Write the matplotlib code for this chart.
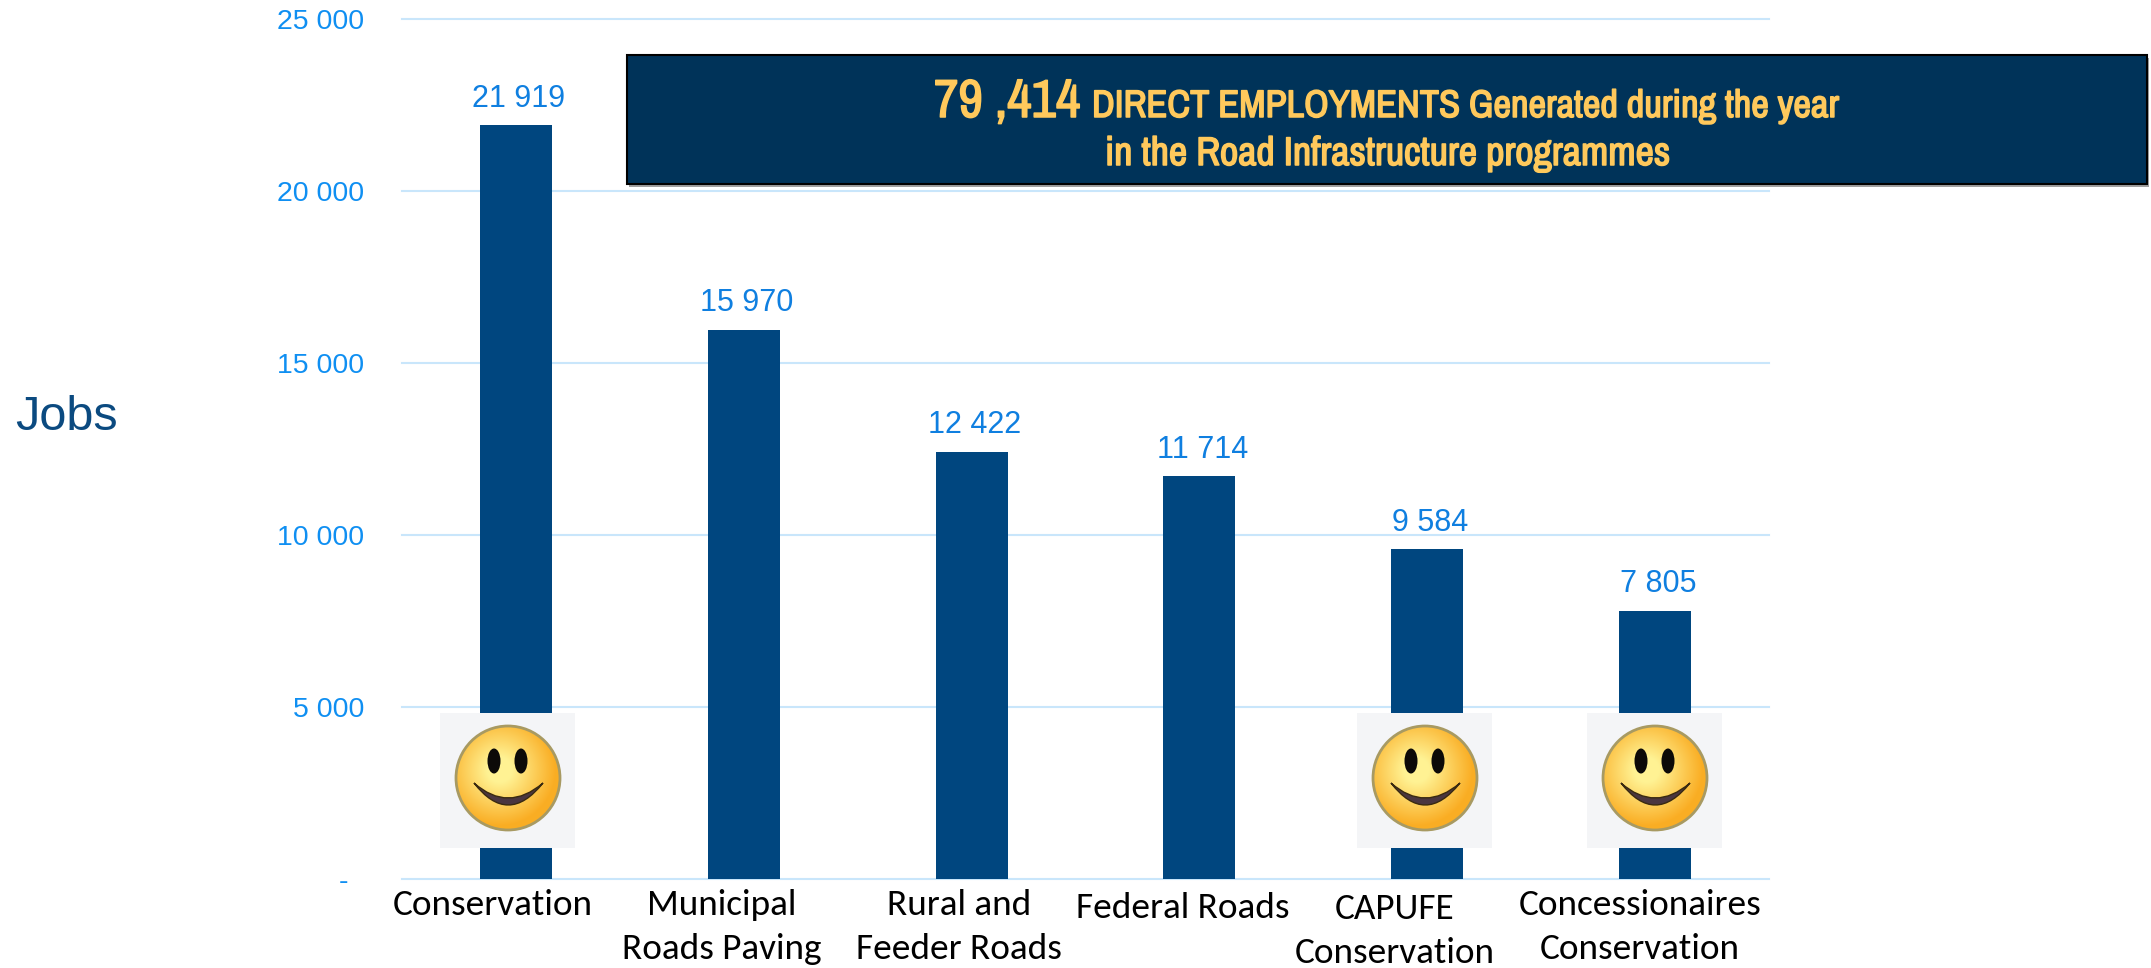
from matplotlib import pyplot as plt
from matplotlib import font_manager as fm
from matplotlib import patheffects as pe
from matplotlib.patches import Rectangle, Circle, Ellipse, PathPatch
from matplotlib.path import Path
import numpy as np

categories = ['Conservation', 'Municipal\nRoads Paving', 'Rural and\nFeeder Roads',
              'Federal Roads', 'CAPUFE\nConservation', 'Concessionaires\nConservation']
jobs = [21919, 15970, 12422, 11714, 9584, 7805]
y_ticks = [0, 5000, 10000, 15000, 20000, 25000]
y_labels = ['-  ', '5 000', '10 000', '15 000', '20 000', '25 000']

W, H = 2151, 968
BLUE = '#00467f'
TICK = '#0f8ff2'
GRID = '#c9e6fb'
GOLD = '#ffc95c'

installed = set(f.name for f in fm.fontManager.ttflist)


def pick(names):
    for n in names:
        if n in installed:
            return n
    return 'Liberation Sans'


narrow = pick(['Liberation Sans Narrow', 'Archivo Narrow', 'Roboto Condensed', 'PT Sans Narrow'])
calibri = pick(['Carlito', 'Lato'])

plt.rcParams['font.family'] = 'Liberation Sans'
fig = plt.figure(figsize=(W / 100, H / 100), dpi=100)

# main chart, placed in pixels
ax = fig.add_axes([402 / W, 1 - 879 / H, (1769 - 402) / W, (879 - 19) / H])
x = np.arange(len(jobs))
ax.bar(x, jobs, width=0.316, color=BLUE, zorder=3)
ax.set_xlim(-0.5, 5.5)
ax.set_ylim(0, 25000)
ax.set_yticks(y_ticks)
ax.set_yticklabels(y_labels, fontsize=20.5, color=TICK)
ax.set_xticks([])
ax.tick_params(axis='y', length=0, pad=27)
ax.grid(axis='y', color=GRID, lw=1.5, zorder=1)
ax.set_axisbelow(True)
for gl in ax.get_ygridlines():
    gl.set_clip_on(False)
for s in ax.spines.values():
    s.set_visible(False)
for xi, v in zip(x, jobs):
    label = f'{v:,}'.replace(',', ' ')
    ax.annotate(label, (xi, v), xytext=(2, 19), textcoords='offset points',
                ha='center', va='center', fontsize=22, color='#0f7fe0', zorder=5)

# overlay in pixel coordinates (y down)
ov = fig.add_axes([0, 0, 1, 1], zorder=5)
ov.set_xlim(0, W)
ov.set_ylim(H, 0)
ov.axis('off')
ov.patch.set_alpha(0)

ov.text(66, 418, 'Jobs', fontsize=35, color='#0b4a80', ha='center', va='center')

# last line baselines, the labels were separate boxes in the original
label_cx = [493, 722, 959, 1183, 1395, 1640]
label_base = [915, 959, 959, 918, 963, 959]
for lab, cx, by in zip(categories, label_cx, label_base):
    ov.text(cx, by, lab, fontsize=26.8, family=calibri, color='black',
            ha='center', va='baseline', linespacing=1.45, multialignment='center')

# banner
ov.add_patch(Rectangle((629, 58), 1520, 129, fc='#a0a0a0', ec='none', zorder=2))
ov.add_patch(Rectangle((627, 55), 1520, 129, fc='#003359', ec='black', lw=1.5, zorder=3))
fake_bold = [pe.withStroke(linewidth=1.1, foreground=GOLD)]
ov.text(934, 117, '79 ,414', fontsize=38.5, family=narrow, weight='bold', color=GOLD,
        ha='left', va='baseline', zorder=4, path_effects=fake_bold)
ov.text(1092, 117, 'DIRECT EMPLOYMENTS Generated during the year', fontsize=27.7, family=narrow,
        weight='bold', color=GOLD, ha='left', va='baseline', zorder=4, path_effects=fake_bold)
ov.text(1387, 165, 'in the Road Infrastructure programmes', fontsize=28.8, family=narrow,
        weight='bold', color=GOLD, ha='center', va='baseline', zorder=4, path_effects=fake_bold)


def smiley(left, top, size=135):
    a = fig.add_axes([left / W, 1 - (top + size) / H, size / W, size / H], zorder=4)
    a.set_xlim(0, size)
    a.set_ylim(size, 0)
    a.axis('off')
    a.add_patch(Rectangle((0, 0), size, size, fc='#f4f5f7', ec='none'))
    # face shading
    yy, xx = np.mgrid[0:1:120j, 0:1:120j]
    d = np.sqrt((xx - 0.42) ** 2 + (yy - 0.42) ** 2)
    t = np.clip((d - 0.12) / 0.42, 0, 1)[..., None]
    c1 = np.array([1.0, 0.95, 0.58])
    c2 = np.array([0.98, 0.68, 0.14])
    im = a.imshow(c1 * (1 - t) + c2 * t, extent=(16, 120, 117, 13), aspect='auto', zorder=2)
    face = Circle((68, 65), 52, fc='none', ec='#a89a62', lw=2, zorder=3)
    a.add_patch(face)
    im.set_clip_path(face)
    a.set_xlim(0, size)
    a.set_ylim(size, 0)
    for ex in (54, 81):
        a.add_patch(Ellipse((ex, 48), 13, 25, fc='#0c0a08', ec='none', zorder=4))
    verts = [(34, 70), (68, 114), (103, 70), (68, 100), (34, 70)]
    codes = [Path.MOVETO, Path.CURVE3, Path.CURVE3, Path.CURVE3, Path.CURVE3]
    a.add_patch(PathPatch(Path(verts, codes), fc='#4a3640', ec='#3a2a10', lw=1, zorder=4))


for left in (440, 1357, 1587):
    smiley(left, 713)

fig.savefig('out.png', dpi=100)
